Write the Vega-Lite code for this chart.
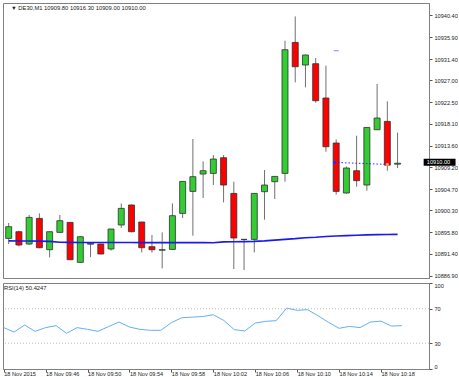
{
  "$schema": "https://vega.github.io/schema/vega-lite/v6.json",
  "padding": {"left": 2, "top": 2, "right": 0, "bottom": 0},
  "spacing": 2,
  "background": "white",
  "config": {
    "view": {"stroke": "#808080", "strokeWidth": 1},
    "font": "Liberation Sans",
    "axis": {"labelFont": "Liberation Sans", "labelFontSize": 5.6, "labelColor": "#222", "tickColor": "#555", "domainColor": "#808080", "title": null, "grid": false, "labelOverlap": false}
  },
  "datasets": {
    "candles": [
      {"t": "2015-11-18T09:42:00", "o": 10894.55, "h": 10897.72, "l": 10893.40, "c": 10896.96, "ma": 10894.05, "rsi": 48.1},
      {"t": "2015-11-18T09:43:00", "o": 10895.93, "h": 10896.14, "l": 10892.91, "c": 10893.20, "ma": 10894.03, "rsi": 43.0},
      {"t": "2015-11-18T09:44:00", "o": 10893.40, "h": 10899.36, "l": 10893.20, "c": 10898.87, "ma": 10894.02, "rsi": 51.1},
      {"t": "2015-11-18T09:45:00", "o": 10898.66, "h": 10899.69, "l": 10892.54, "c": 10892.64, "ma": 10894.00, "rsi": 43.8},
      {"t": "2015-11-18T09:46:00", "o": 10892.23, "h": 10896.00, "l": 10890.65, "c": 10895.93, "ma": 10893.95, "rsi": 48.1},
      {"t": "2015-11-18T09:47:00", "o": 10895.79, "h": 10899.36, "l": 10895.70, "c": 10898.19, "ma": 10893.75, "rsi": 50.4},
      {"t": "2015-11-18T09:48:00", "o": 10897.84, "h": 10897.90, "l": 10890.10, "c": 10890.18, "ma": 10893.73, "rsi": 41.5},
      {"t": "2015-11-18T09:49:00", "o": 10889.63, "h": 10894.95, "l": 10889.55, "c": 10894.90, "ma": 10893.72, "rsi": 48.1},
      {"t": "2015-11-18T09:50:00", "o": 10893.36, "h": 10893.67, "l": 10890.69, "c": 10893.57, "ma": 10893.72, "rsi": 46.1},
      {"t": "2015-11-18T09:51:00", "o": 10893.40, "h": 10893.45, "l": 10891.30, "c": 10891.35, "ma": 10893.71, "rsi": 43.8},
      {"t": "2015-11-18T09:52:00", "o": 10892.38, "h": 10896.50, "l": 10892.03, "c": 10896.48, "ma": 10893.71, "rsi": 49.3},
      {"t": "2015-11-18T09:53:00", "o": 10897.31, "h": 10901.74, "l": 10896.69, "c": 10900.72, "ma": 10893.70, "rsi": 54.6},
      {"t": "2015-11-18T09:54:00", "o": 10901.42, "h": 10901.50, "l": 10895.79, "c": 10895.93, "ma": 10893.70, "rsi": 48.8},
      {"t": "2015-11-18T09:55:00", "o": 10897.92, "h": 10897.95, "l": 10891.68, "c": 10892.64, "ma": 10893.69, "rsi": 46.1},
      {"t": "2015-11-18T09:56:00", "o": 10892.85, "h": 10895.25, "l": 10891.62, "c": 10892.23, "ma": 10893.69, "rsi": 45.0},
      {"t": "2015-11-18T09:57:00", "o": 10892.13, "h": 10895.79, "l": 10888.39, "c": 10892.23, "ma": 10893.68, "rsi": 45.0},
      {"t": "2015-11-18T09:58:00", "o": 10892.29, "h": 10901.74, "l": 10892.20, "c": 10899.22, "ma": 10893.68, "rsi": 53.9},
      {"t": "2015-11-18T09:59:00", "o": 10899.69, "h": 10906.30, "l": 10898.74, "c": 10906.26, "ma": 10893.68, "rsi": 59.6},
      {"t": "2015-11-18T10:00:00", "o": 10904.21, "h": 10914.97, "l": 10895.11, "c": 10907.23, "ma": 10893.68, "rsi": 60.3},
      {"t": "2015-11-18T10:01:00", "o": 10907.78, "h": 10910.37, "l": 10902.85, "c": 10908.46, "ma": 10893.68, "rsi": 61.1},
      {"t": "2015-11-18T10:02:00", "o": 10907.91, "h": 10911.68, "l": 10905.52, "c": 10910.86, "ma": 10893.67, "rsi": 63.1},
      {"t": "2015-11-18T10:03:00", "o": 10911.13, "h": 10911.68, "l": 10901.95, "c": 10905.52, "ma": 10893.85, "rsi": 56.5},
      {"t": "2015-11-18T10:04:00", "o": 10903.80, "h": 10906.20, "l": 10888.27, "c": 10894.64, "ma": 10893.88, "rsi": 45.8},
      {"t": "2015-11-18T10:05:00", "o": 10894.35, "h": 10894.40, "l": 10888.06, "c": 10894.35, "ma": 10893.90, "rsi": 44.2},
      {"t": "2015-11-18T10:06:00", "o": 10894.35, "h": 10903.85, "l": 10891.68, "c": 10903.80, "ma": 10893.95, "rsi": 53.4},
      {"t": "2015-11-18T10:07:00", "o": 10904.15, "h": 10908.60, "l": 10898.40, "c": 10905.52, "ma": 10894.05, "rsi": 55.4},
      {"t": "2015-11-18T10:08:00", "o": 10906.20, "h": 10907.30, "l": 10902.65, "c": 10907.29, "ma": 10894.20, "rsi": 56.2},
      {"t": "2015-11-18T10:09:00", "o": 10907.91, "h": 10935.16, "l": 10906.20, "c": 10933.31, "ma": 10894.35, "rsi": 70.8},
      {"t": "2015-11-18T10:10:00", "o": 10934.81, "h": 10940.15, "l": 10926.60, "c": 10929.82, "ma": 10894.50, "rsi": 68.2},
      {"t": "2015-11-18T10:11:00", "o": 10930.17, "h": 10932.30, "l": 10925.57, "c": 10932.23, "ma": 10894.70, "rsi": 69.0},
      {"t": "2015-11-18T10:12:00", "o": 10930.44, "h": 10931.61, "l": 10922.43, "c": 10922.84, "ma": 10894.80, "rsi": 61.9},
      {"t": "2015-11-18T10:13:00", "o": 10923.39, "h": 10930.03, "l": 10912.36, "c": 10913.39, "ma": 10894.95, "rsi": 54.2},
      {"t": "2015-11-18T10:14:00", "o": 10914.15, "h": 10914.89, "l": 10903.53, "c": 10904.21, "ma": 10895.05, "rsi": 47.3},
      {"t": "2015-11-18T10:15:00", "o": 10903.88, "h": 10909.34, "l": 10903.74, "c": 10909.01, "ma": 10895.12, "rsi": 49.6},
      {"t": "2015-11-18T10:16:00", "o": 10908.46, "h": 10915.65, "l": 10905.17, "c": 10906.41, "ma": 10895.20, "rsi": 48.1},
      {"t": "2015-11-18T10:17:00", "o": 10905.52, "h": 10917.40, "l": 10904.35, "c": 10917.35, "ma": 10895.28, "rsi": 54.6},
      {"t": "2015-11-18T10:18:00", "o": 10916.88, "h": 10926.27, "l": 10916.80, "c": 10919.28, "ma": 10895.32, "rsi": 55.7},
      {"t": "2015-11-18T10:19:00", "o": 10918.59, "h": 10922.69, "l": 10908.46, "c": 10909.60, "ma": 10895.36, "rsi": 49.9},
      {"t": "2015-11-18T10:20:00", "o": 10909.80, "h": 10916.30, "l": 10909.00, "c": 10910.00, "ma": 10895.38, "rsi": 50.42}
    ],
    "trade": [
      {"t": "2015-11-18T10:13:50", "p": 10910.17, "kind": "open"},
      {"t": "2015-11-18T10:19:00", "p": 10909.75, "kind": "close"}
    ],
    "marker": [{"t": "2015-11-18T10:14:00", "p": 10933.11}],
    "last": [{"price": 10910.0, "label": "10910.00"}],
    "heading": [{"text": "▼  DE30,M1  10909.80 10916.30 10909.00 10910.00"}],
    "rsihead": [{"text": "RSI(14) 50.4247"}],
    "levels": [{"level": 30}, {"level": 70}]
  },
  "vconcat": [
    {
      "width": 426,
      "height": 275,
      "layer": [
        {
          "data": {"name": "candles"},
          "mark": {"type": "rule", "color": "#707070", "strokeWidth": 1, "clip": true},
          "encoding": {
            "x": {"field": "t", "type": "temporal", "axis": null,
                  "scale": {"domain": [{"year": 2015, "month": 11, "date": 18, "hours": 9, "minutes": 41, "seconds": 56}, {"year": 2015, "month": 11, "date": 18, "hours": 10, "minutes": 22, "seconds": 35}]}},
            "y": {"field": "l", "type": "quantitative",
                  "scale": {"domain": [10886.42, 10942.91], "nice": false, "zero": false},
                  "axis": {"orient": "right", "values": [10886.9, 10891.4, 10895.8, 10900.3, 10904.7, 10909.2, 10913.6, 10918.1, 10922.5, 10927.0, 10931.4, 10935.9, 10940.4], "tickCount": 30, "format": ".2f", "tickSize": 3, "labelPadding": 2, "labelOverlap": false, "labelBound": false}},
            "y2": {"field": "h"}
          }
        },
        {
          "data": {"name": "candles"},
          "mark": {"type": "bar", "size": 6, "stroke": "#303030", "strokeWidth": 0.8, "clip": true},
          "encoding": {
            "x": {"field": "t", "type": "temporal"},
            "y": {"field": "o", "type": "quantitative"},
            "y2": {"field": "c"},
            "color": {"condition": {"test": "datum.c > datum.o", "value": "#32CD32"}, "value": "#FF0000"}
          }
        },
        {
          "data": {"name": "candles"},
          "mark": {"type": "line", "color": "#1a1af0", "strokeWidth": 1.6, "clip": true},
          "encoding": {"x": {"field": "t", "type": "temporal"}, "y": {"field": "ma", "type": "quantitative"}}
        },
        {
          "data": {"name": "trade"},
          "mark": {"type": "line", "color": "#2a2aff", "strokeWidth": 1, "strokeDash": [1.5, 2]},
          "encoding": {"x": {"field": "t", "type": "temporal"}, "y": {"field": "p", "type": "quantitative"}}
        },
        {
          "data": {"name": "trade"},
          "mark": {"type": "point", "filled": true, "size": 10, "opacity": 1},
          "encoding": {
            "x": {"field": "t", "type": "temporal"},
            "y": {"field": "p", "type": "quantitative"},
            "color": {"field": "kind", "type": "nominal", "scale": {"domain": ["open", "close"], "range": ["#2a2aff", "#f0a060"]}, "legend": null}
          }
        },
        {
          "data": {"name": "marker"},
          "mark": {"type": "tick", "orient": "horizontal", "size": 5, "thickness": 1.2, "color": "#7070ff"},
          "encoding": {"x": {"field": "t", "type": "temporal"}, "y": {"field": "p", "type": "quantitative"}}
        },
        {
          "data": {"name": "heading"},
          "mark": {"type": "text", "fontSize": 5.8, "color": "#222", "align": "left", "baseline": "middle", "dx": 3, "dy": 5},
          "encoding": {
            "x": {"datum": {"year": 2015, "month": 11, "date": 18, "hours": 9, "minutes": 41, "seconds": 56}, "type": "temporal"},
            "y": {"datum": 10942.91, "type": "quantitative"},
            "text": {"field": "text"}
          }
        },
        {
          "data": {"name": "last"},
          "mark": {"type": "rect", "color": "#000000", "clip": false},
          "encoding": {
            "x": {"datum": {"year": 2015, "month": 11, "date": 18, "hours": 10, "minutes": 22, "seconds": 33}, "type": "temporal"},
            "x2": {"datum": {"year": 2015, "month": 11, "date": 18, "hours": 10, "minutes": 25, "seconds": 40}},
            "y": {"datum": 10910.9, "type": "quantitative"},
            "y2": {"datum": 10909.5}
          }
        },
        {
          "data": {"name": "last"},
          "mark": {"type": "text", "color": "#ffffff", "fontSize": 5.6, "align": "center", "baseline": "middle", "clip": false},
          "encoding": {
            "x": {"datum": {"year": 2015, "month": 11, "date": 18, "hours": 10, "minutes": 24, "seconds": 0}, "type": "temporal"},
            "y": {"datum": 10910.2, "type": "quantitative"},
            "text": {"field": "label"}
          }
        }
      ]
    },
    {
      "width": 426,
      "height": 86,
      "layer": [
        {
          "data": {"name": "levels"},
          "mark": {"type": "rule", "color": "#b8b8b8", "strokeWidth": 1, "strokeDash": [1, 2]},
          "encoding": {
            "y": {"field": "level", "type": "quantitative",
                  "scale": {"domain": [0, 100], "nice": false},
                  "axis": {"orient": "right", "values": [0, 30, 70, 100], "tickCount": 10, "tickSize": 3, "labelPadding": 2, "labelFlush": true, "labelOverlap": false}}
          }
        },
        {
          "data": {"name": "candles"},
          "mark": {"type": "line", "color": "#64b0f4", "strokeWidth": 1, "clip": true},
          "encoding": {
            "x": {"field": "t", "type": "temporal",
                  "scale": {"domain": [{"year": 2015, "month": 11, "date": 18, "hours": 9, "minutes": 41, "seconds": 56}, {"year": 2015, "month": 11, "date": 18, "hours": 10, "minutes": 22, "seconds": 35}]},
                  "axis": {"orient": "bottom", "tickCount": 20, "tickSize": 3, "labelPadding": -1, "labelAlign": "left", "labelBaseline": "top", "labelOffset": 0, "labelFlush": false, "labelOverlap": false,
                           "values": [
                             {"year": 2015, "month": 11, "date": 18, "hours": 9, "minutes": 42},
                             {"year": 2015, "month": 11, "date": 18, "hours": 9, "minutes": 46},
                             {"year": 2015, "month": 11, "date": 18, "hours": 9, "minutes": 50},
                             {"year": 2015, "month": 11, "date": 18, "hours": 9, "minutes": 54},
                             {"year": 2015, "month": 11, "date": 18, "hours": 9, "minutes": 58},
                             {"year": 2015, "month": 11, "date": 18, "hours": 10, "minutes": 2},
                             {"year": 2015, "month": 11, "date": 18, "hours": 10, "minutes": 6},
                             {"year": 2015, "month": 11, "date": 18, "hours": 10, "minutes": 10},
                             {"year": 2015, "month": 11, "date": 18, "hours": 10, "minutes": 14},
                             {"year": 2015, "month": 11, "date": 18, "hours": 10, "minutes": 18}
                           ],
                           "labelExpr": "timeFormat(datum.value, '%H:%M') == '09:42' ? '18 Nov 2015' : '18 Nov ' + timeFormat(datum.value, '%H:%M')"}},
            "y": {"field": "rsi", "type": "quantitative"}
          }
        },
        {
          "data": {"name": "rsihead"},
          "mark": {"type": "text", "fontSize": 5.8, "color": "#222", "align": "left", "baseline": "middle", "dx": 1, "dy": 5},
          "encoding": {
            "x": {"datum": {"year": 2015, "month": 11, "date": 18, "hours": 9, "minutes": 41, "seconds": 56}, "type": "temporal"},
            "y": {"datum": 100, "type": "quantitative"},
            "text": {"field": "text"}
          }
        }
      ]
    }
  ]
}
